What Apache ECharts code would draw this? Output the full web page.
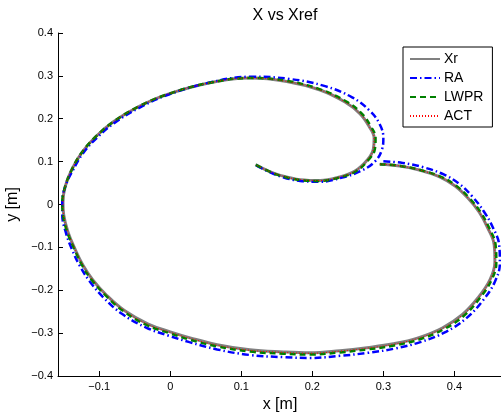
<!DOCTYPE html>
<html><head><meta charset="utf-8">
<script src="https://cdn.jsdelivr.net/npm/echarts@6/dist/echarts.min.js"></script>
<style>html,body{margin:0;padding:0;background:#fff}#c{width:501px;height:415px}</style>
</head><body><div id="c"></div>
<script>
// Data
var seriesNames = ['Xr', 'RA', 'LWPR', 'ACT'];
var xTicks = [-0.1, 0, 0.1, 0.2, 0.3, 0.4];
var yTicks = [-0.4, -0.3, -0.2, -0.1, 0, 0.1, 0.2, 0.3, 0.4];

var xrX = [0.295,0.323,0.352,0.380,0.401,0.419,0.435,0.447,0.456,0.457,0.450,0.433,0.411,0.383,0.349,0.314,0.277,0.239,0.197,0.159,0.112,0.066,0.028,0.000,-0.031,-0.064,-0.090,-0.109,-0.123,-0.134,-0.144,-0.150,-0.151,-0.148,-0.139,-0.125,-0.105,-0.080,-0.045,-0.004,0.056,0.113,0.164,0.211,0.246,0.267,0.280,0.287,0.286,0.278,0.260,0.236,0.211,0.183,0.155,0.137,0.120];
var xrY = [0.094,0.090,0.080,0.064,0.043,0.015,-0.018,-0.055,-0.094,-0.134,-0.176,-0.218,-0.257,-0.288,-0.311,-0.325,-0.334,-0.341,-0.346,-0.344,-0.339,-0.327,-0.311,-0.297,-0.279,-0.248,-0.211,-0.176,-0.141,-0.104,-0.064,-0.024,0.005,0.041,0.080,0.120,0.158,0.193,0.228,0.257,0.284,0.295,0.287,0.267,0.239,0.212,0.182,0.155,0.130,0.105,0.078,0.063,0.056,0.058,0.068,0.079,0.093];

var raX = [0.300,0.327,0.356,0.385,0.407,0.425,0.441,0.454,0.463,0.464,0.457,0.440,0.417,0.388,0.352,0.316,0.278,0.239,0.197,0.159,0.112,0.066,0.027,-0.002,-0.034,-0.068,-0.094,-0.113,-0.127,-0.138,-0.147,-0.152,-0.152,-0.148,-0.137,-0.123,-0.103,-0.078,-0.043,-0.003,0.057,0.114,0.167,0.218,0.256,0.280,0.294,0.300,0.298,0.288,0.268,0.240,0.211,0.183,0.158,0.138,0.120];
var raY = [0.101,0.097,0.087,0.070,0.048,0.019,-0.015,-0.053,-0.094,-0.136,-0.180,-0.224,-0.265,-0.297,-0.321,-0.336,-0.346,-0.353,-0.358,-0.356,-0.351,-0.338,-0.321,-0.306,-0.287,-0.255,-0.217,-0.180,-0.144,-0.106,-0.065,-0.024,0.005,0.041,0.080,0.119,0.156,0.191,0.226,0.256,0.285,0.298,0.293,0.276,0.250,0.220,0.190,0.155,0.128,0.100,0.078,0.062,0.053,0.055,0.064,0.077,0.092];

var lwX = [0.295,0.324,0.353,0.382,0.403,0.421,0.437,0.449,0.458,0.459,0.452,0.435,0.413,0.385,0.350,0.315,0.277,0.239,0.197,0.159,0.112,0.066,0.027,-0.001,-0.032,-0.065,-0.091,-0.110,-0.124,-0.135,-0.145,-0.151,-0.152,-0.148,-0.139,-0.125,-0.105,-0.080,-0.045,-0.004,0.056,0.113,0.165,0.212,0.248,0.269,0.282,0.289,0.288,0.279,0.261,0.236,0.211,0.183,0.155,0.137,0.120];
var lwY = [0.094,0.090,0.080,0.064,0.043,0.015,-0.018,-0.055,-0.094,-0.135,-0.177,-0.220,-0.260,-0.291,-0.315,-0.329,-0.338,-0.345,-0.350,-0.348,-0.343,-0.331,-0.315,-0.300,-0.282,-0.250,-0.212,-0.177,-0.142,-0.104,-0.064,-0.024,0.005,0.041,0.080,0.120,0.158,0.193,0.228,0.257,0.284,0.295,0.288,0.268,0.240,0.213,0.183,0.155,0.129,0.104,0.077,0.062,0.055,0.057,0.067,0.079,0.093];

var acX = [0.295,0.323,0.352,0.380,0.401,0.419,0.435,0.447,0.456,0.457,0.450,0.433,0.411,0.383,0.349,0.314,0.277,0.239,0.197,0.159,0.112,0.066,0.028,0.000,-0.031,-0.064,-0.090,-0.109,-0.123,-0.134,-0.144,-0.150,-0.151,-0.148,-0.139,-0.125,-0.105,-0.080,-0.045,-0.004,0.056,0.113,0.164,0.211,0.246,0.267,0.280,0.287,0.286,0.278,0.260,0.236,0.211,0.183,0.155,0.137,0.120];
var acY = [0.094,0.090,0.080,0.064,0.043,0.015,-0.018,-0.055,-0.094,-0.134,-0.176,-0.219,-0.258,-0.289,-0.312,-0.326,-0.335,-0.342,-0.347,-0.345,-0.340,-0.328,-0.312,-0.298,-0.280,-0.248,-0.211,-0.176,-0.141,-0.104,-0.064,-0.024,0.005,0.041,0.080,0.120,0.158,0.193,0.228,0.257,0.284,0.295,0.287,0.267,0.239,0.212,0.182,0.155,0.130,0.105,0.078,0.063,0.056,0.058,0.068,0.079,0.093];

function zip(a, b) { return a.map(function (v, i) { return [v, b[i]]; }); }
function fmt(v) { return String(v).replace('-', '\u2212'); }

var chart = echarts.init(document.getElementById('c'), null, {renderer: 'canvas'});
var font = 'Liberation Sans, Arial, Helvetica, sans-serif';
function mk(name, x, y, color, width, type, z) {
  return {
    name: name, type: 'line', data: zip(x, y), smooth: 0.4, symbol: 'none', showSymbol: false,
    lineStyle: {color: color, width: width, type: type}, itemStyle: {color: color}, z: z
  };
}
chart.setOption({
  animation: false,
  backgroundColor: '#fff',
  title: {text: 'X vs Xref', left: 280, top: 3, textAlign: 'center',
    textStyle: {fontFamily: font, fontSize: 16, fontWeight: 'normal', color: '#000'}},
  grid: {left: 58, top: 33, width: 444, height: 343, containLabel: false, outerBoundsMode: 'none'},
  legend: {
    data: seriesNames, orient: 'vertical', left: 403, top: 47,
    backgroundColor: '#fff', borderColor: '#000', borderWidth: 1,
    padding: [5, 9, 4, 6], itemGap: 5, itemWidth: 30, itemHeight: 14,
    itemStyle: {opacity: 0},
    textStyle: {fontFamily: font, fontSize: 14, color: '#000', padding: [0, 0, 0, -1]}
  },
  xAxis: {
    type: 'value', min: -0.158, max: 0.467,
    name: 'x [m]', nameLocation: 'middle', nameGap: 20,
    nameTextStyle: {fontFamily: font, fontSize: 16, color: '#000'},
    axisLine: {show: true, onZero: false, lineStyle: {color: '#000', width: 1}},
    axisTick: {show: true, inside: true, length: 5, customValues: xTicks, lineStyle: {color: '#000'}},
    axisLabel: {customValues: xTicks, formatter: fmt, fontFamily: font, fontSize: 11, color: '#000', margin: 5},
    splitLine: {show: false}
  },
  yAxis: {
    type: 'value', min: -0.4, max: 0.4, interval: 0.1,
    name: 'y [m]', nameLocation: 'middle', nameGap: 37, nameRotate: 90,
    nameTextStyle: {fontFamily: font, fontSize: 16, color: '#000'},
    axisLine: {show: true, onZero: false, lineStyle: {color: '#000', width: 1}},
    axisTick: {show: true, inside: true, length: 5, lineStyle: {color: '#000'}},
    axisLabel: {formatter: function (v) { return fmt(Math.round(v * 10) / 10); }, fontFamily: font, fontSize: 11, color: '#000', margin: 5},
    splitLine: {show: false}
  },
  series: [
    mk('Xr', xrX, xrY, '#808080', 3, 'solid', 1),
    mk('RA', raX, raY, '#0000ff', 2.5, [7, 3, 1.5, 3], 2),
    mk('LWPR', lwX, lwY, '#008000', 2.5, [6, 4], 3),
    mk('ACT', acX, acY, '#ff0000', 1, [1, 2], 4)
  ]
});
</script></body></html>
